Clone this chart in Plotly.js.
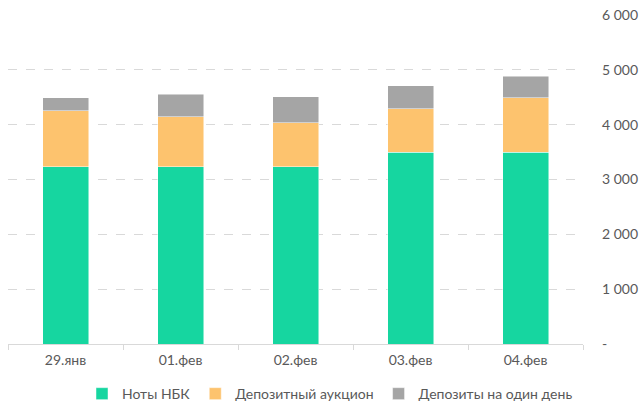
<!DOCTYPE html>
<html><head><meta charset="utf-8">
<script src="https://cdn.plot.ly/plotly-3.0.1.min.js"></script>
<style>html,body{margin:0;padding:0;background:#fff}#c{width:639px;height:405px}</style>
</head><body><div id="c"></div>
<script>
const categories = ["29.янв", "01.фев", "02.фев", "03.фев", "04.фев"];
const notes = [3233, 3233, 3233, 3494, 3494];
const auction = [1018, 909, 800, 800, 993];
const overnight = [236, 413, 473, 412, 395];
const seriesNames = ["Ноты НБК", "Депозитный аукцион", "Депозиты на один день"];
const tickVals = [0, 1000, 2000, 3000, 4000, 5000, 6000];
const tickText = ["-", "1 000", "2 000", "3 000", "4 000", "5 000", "6 000"];

const colors = ["#16D6A0", "#FDC36E", "#A5A5A5"];
const vals = [notes, auction, overnight];
const data = vals.map((v, i) => ({
  type: "bar", x: categories, y: v, name: seriesNames[i],
  marker: {color: colors[i], line: {color: "rgba(255,255,255,0.6)", width: 0.8}},
  hoverinfo: "skip"
}));
const font = {family: "Lato, 'Noto Sans', sans-serif", size: 14, color: "#595959"};
Plotly.newPlot("c", data, {
  width: 639, height: 405,
  margin: {l: 8, r: 56, t: 15, b: 60.5},
  barmode: "stack", bargap: 0.6,
  paper_bgcolor: "#fff", plot_bgcolor: "#fff",
  font: font,
  showlegend: true,
  legend: {orientation: "h", x: 0.56, xanchor: "center", xref: "paper", yref: "container", y: 0.027, yanchor: "middle",
           font: font, itemwidth: 30, traceorder: "normal"},
  xaxis: {type: "category", showline: true, linecolor: "#d9d9d9", linewidth: 1,
          ticks: "outside", ticklen: 5, tickcolor: "#d9d9d9", tickson: "boundaries",
          ticklabelstandoff: 3,
          showgrid: false, zeroline: false, tickfont: font, fixedrange: true, automargin: false},
  yaxis: {side: "right", range: [0, 6000], tickvals: tickVals, ticktext: tickText,
          showgrid: true, gridcolor: "#d9d9d9", griddash: "dash", gridwidth: 1,
          zeroline: false, showline: false, ticks: "", ticklabelstandoff: 18,
          tickfont: font, fixedrange: true, automargin: false}
}, {displayModeBar: false, staticPlot: true});
</script></body></html>
